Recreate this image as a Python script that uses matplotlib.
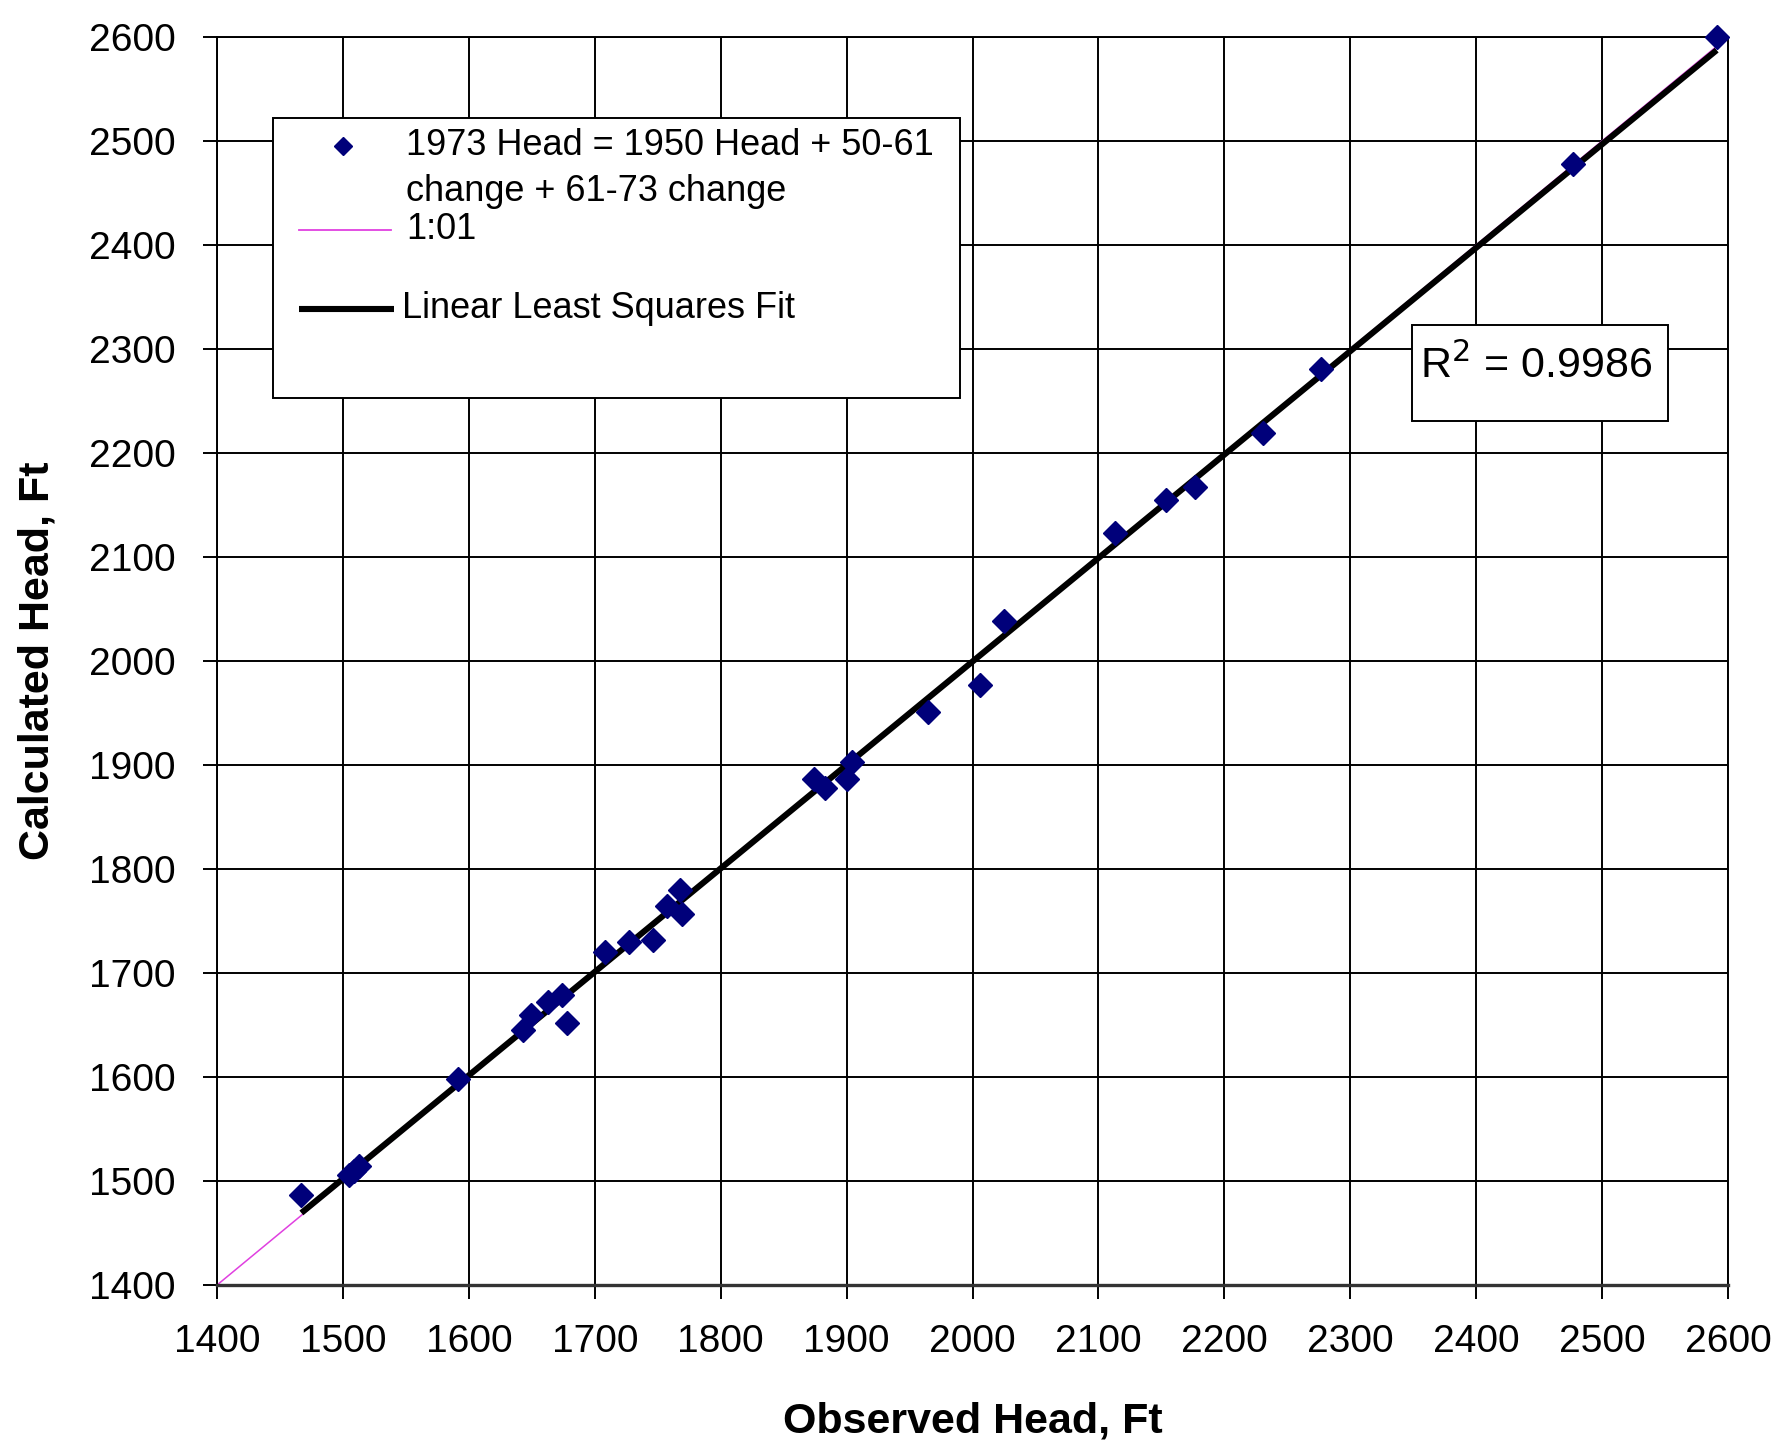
import numpy as np
import matplotlib
matplotlib.use("Agg")
import matplotlib.pyplot as plt
from matplotlib.lines import Line2D
from matplotlib.patches import Rectangle

plt.rcParams['font.family'] = ['Liberation Sans', 'DejaVu Sans']

# Observed vs. calculated 1973 heads (ft)
observed = [1467, 1505, 1509, 1513, 1591, 1643, 1649, 1663, 1674, 1678,
            1708, 1727, 1746, 1757, 1768, 1769, 1874, 1883, 1900, 1904,
            1965, 2006, 2025, 2113, 2154, 2177, 2231, 2277, 2477, 2591]
calculated = [1487, 1506, 1510, 1514, 1598, 1645, 1660, 1672, 1679, 1652,
              1720, 1730, 1732, 1764, 1780, 1757, 1887, 1878, 1887, 1903,
              1951, 1977, 2038, 2123, 2155, 2167, 2219, 2281, 2478, 2600]

axis_ticks = [1400, 1500, 1600, 1700, 1800, 1900, 2000, 2100, 2200, 2300,
              2400, 2500, 2600]
one_to_one = [1400, 2600]
r_squared = 0.9986

line_label = "1:01"
fit_label = "Linear Least Squares Fit"

fig = plt.figure(figsize=(17.92, 14.54), dpi=100)
ax = fig.add_axes([0.1211, 0.1162, 0.8432, 0.8584])

ax.set_xlim(1400, 2600)
ax.set_ylim(1400, 2600)
ax.set_xticks(axis_ticks)
ax.set_yticks(axis_ticks)
ax.grid(True, color='black', linewidth=1.4)
ax.set_axisbelow(True)

# 1:1 reference line
ax.plot(one_to_one, one_to_one, color='#E040E0', linewidth=1.1, zorder=2)

# least squares fit over the observed range
slope, intercept = np.polyfit(observed, calculated, 1)
xf = np.array([min(observed), max(observed)])
ax.plot(xf, slope * xf + intercept, color='black', linewidth=4.4,
        solid_capstyle='butt', zorder=3)

ax.plot(observed, calculated, linestyle='none', marker='D', markersize=12,
        color='#00007A', markeredgecolor='#00007A', zorder=4, clip_on=False)

for s in ax.spines.values():
    s.set_linewidth(1.4)
    s.set_color('black')
ax.spines['bottom'].set_linewidth(2.4)
ax.spines['bottom'].set_color('#333333')

ax.tick_params(axis='both', direction='out', length=10, width=1.4,
               labelsize=28, colors='black')
ax.tick_params(axis='x', pad=18)
ax.tick_params(axis='y', pad=20)

ax.set_xlabel("Observed Head, Ft", fontsize=31, fontweight='bold',
              va='center', ha='center')
ax.set_ylabel("Calculated Head, Ft", fontsize=31, fontweight='bold',
              va='center', ha='center')
ax.xaxis.set_label_coords(0.5, -0.109)
ax.yaxis.set_label_coords(-0.119, 0.5)

# legend box
T = ax.transAxes
ax.add_patch(Rectangle((0.0371, 0.7107), 0.4546, 0.2244, transform=T,
                       facecolor='white', edgecolor='black', linewidth=1.4,
                       zorder=6))
ax.add_line(Line2D([0.0834], [0.9127], transform=T, marker='D', markersize=9,
                   color='#00007A', linestyle='none', zorder=7))
ax.text(0.1251, 0.9127, "1973 Head = 1950 Head + 50-61", transform=T,
        fontsize=26, va='center', ha='left', zorder=7)
ax.text(0.1251, 0.8758, "change + 61-73 change", transform=T,
        fontsize=26, va='center', ha='left', zorder=7)
ax.add_line(Line2D([0.0543, 0.1152], [0.8454, 0.8454], transform=T,
                   color='#E040E0', linewidth=1.3, zorder=7))
ax.text(0.1251, 0.8454, line_label, transform=T,
        fontsize=26, va='center', ha='left', zorder=7)
ax.add_line(Line2D([0.0543, 0.1171], [0.7824, 0.7824], transform=T,
                   color='black', linewidth=4.4, solid_capstyle='butt', zorder=7))
ax.text(0.1224, 0.7824, fit_label, transform=T,
        fontsize=26, va='center', ha='left', zorder=7)

# R-squared annotation box
ax.add_patch(Rectangle((0.7907, 0.6925), 0.1698, 0.0767, transform=T,
                       facecolor='white', edgecolor='black', linewidth=1.4,
                       zorder=6))
ax.text(0.7960, 0.7364, "R$^2$ = %.4f" % r_squared, transform=T,
        fontsize=31, va='center', ha='left', zorder=7)

fig.savefig("out.png", dpi=100, facecolor='white')
